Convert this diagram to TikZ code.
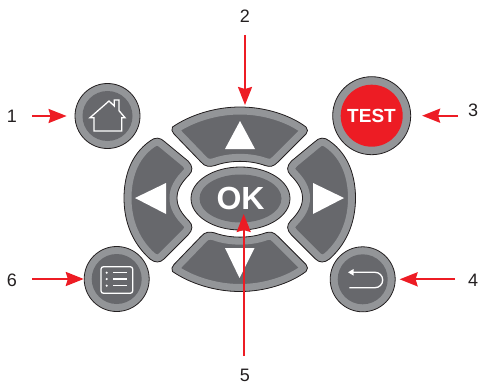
\documentclass[tikz,border=0pt]{standalone}
\usepackage{fontspec}
\setmainfont{Liberation Sans}
\usetikzlibrary{arrows.meta,shapes.geometric}
\definecolor{ringgray}{HTML}{939598}
\definecolor{darkgray}{HTML}{67686C}
\definecolor{edgeblack}{HTML}{231F20}
\definecolor{redtest}{HTML}{ED1C24}
\tikzset{
  redarrow/.style={draw=redtest,line width=2.2pt,-{Stealth[length=18pt,width=14pt,inset=2pt,fill=redtest]}},
  lbl/.style={inner sep=0pt,font=\fontsize{18}{20}\selectfont,text=edgeblack},
  ringbtn/.style={circle,draw=edgeblack,line width=0.8pt,fill=ringgray,inner sep=0pt,minimum size=65pt},
  ringin/.style={circle,fill=darkgray,inner sep=0pt,minimum size=50pt},
  iconline/.style={draw=white,line width=1.3pt},
  tri/.style={fill=white,draw=none},
}
\def\uppath{(172.5,127) .. controls (190,115) and (215,107) .. (240,107) .. controls (265,107) and (290,115) .. (306,127) .. controls (308,129) and (308,132) .. (306,134) -- (278,162) .. controls (273,167) and (270,167) .. (265,165.5) .. controls (250,160) and (230,160) .. (215,165.5) .. controls (210,167) and (205,167) .. (201,162) -- (174,134) .. controls (172,132) and (171,129) .. (172.5,127) -- cycle}
\def\leftpath{(150,141) .. controls (130,155) and (124,178) .. (124,198) .. controls (124,218) and (130,241) .. (150,259) .. controls (155,263) and (160,263) .. (164,259) -- (188,235) .. controls (193,230) and (193,225) .. (189,221) .. controls (181,213) and (177,206) .. (177,198) .. controls (177,190) and (181,183) .. (189,175) .. controls (193,171) and (193,166) .. (188,161) -- (165,142) .. controls (160,137) and (155,137) .. (150,141) -- cycle}
\newcommand{\padbtn}[1]{%
  \begin{scope}\clip #1;
    \fill[darkgray] #1;
    \draw[ringgray,line width=15pt] #1;
  \end{scope}
  \draw[edgeblack,line width=0.8pt] #1;
}
\begin{document}
\begin{tikzpicture}[x=1pt,y=-1pt]
\useasboundingbox (0,0) rectangle (478,385);
% pad
\padbtn{\uppath}
\begin{scope}[shift={(0,398.5)},yscale=-1]\padbtn{\uppath}\end{scope}
\padbtn{\leftpath}
\begin{scope}[shift={(479.5,0)},xscale=-1]\padbtn{\leftpath}\end{scope}
\fill[tri] (240,121) -- (255,149) -- (225,149) -- cycle;
\fill[tri] (239.5,278) -- (254.5,248) -- (225,248) -- cycle;
\fill[tri] (135,198) -- (166,183) -- (166,214) -- cycle;
\fill[tri] (344,198) -- (313,183) -- (313,214) -- cycle;
% OK
\node[ellipse,draw=edgeblack,line width=0.8pt,fill=ringgray,inner sep=0pt,minimum width=99pt,minimum height=63pt] (okout) at (240.5,198.5) {};
\node[ellipse,fill=darkgray,inner sep=0pt,minimum width=82pt,minimum height=48pt] (okin) at (240.5,198.5) {};
\node[inner sep=0pt,text=white,font=\bfseries\fontsize{32}{32}\selectfont] (oktext) at (240.5,198.5) {OK};
% round buttons
\node[ringbtn] (home) at (107.5,116) {};
\node[ringin] (homein) at (107.5,116) {};
\node[ringbtn] (menu) at (116.7,279) {};
\node[ringin] (menuin) at (116.7,279) {};
\node[ringbtn] (back) at (362.7,279.3) {};
\node[ringin] (backin) at (362.7,279.3) {};
\node[ringbtn,minimum size=78pt] (test) at (371.7,115.7) {};
\node[circle,fill=redtest,inner sep=0pt,minimum size=62pt] (testin) at (371.7,115.7) {};
\node[inner sep=0pt,text=white,font=\bfseries\fontsize{19}{19}\selectfont] (testtext) at (371.5,116) {TEST};
% icons
\draw[iconline,line join=miter] (90,117.7) -- (109,101) -- (114.3,106) -- (114.3,100) -- (119,100) -- (119,110.7) -- (125,117.7) -- (121.7,117.7) -- (121.7,131) -- (94,131) -- (94,117.7) -- cycle;
\draw[iconline,rounded corners=2.5pt] (101,266.7) rectangle (132.7,293.3);
\draw[iconline] (113.3,272.7) -- (126.7,272.7) (113.3,279) -- (126.7,279) (113.3,285.7) -- (126.7,285.7);
\fill[white] (106.7,272.7) circle (1.2pt) (106.7,279) circle (1.2pt) (106.7,285.7) circle (1.2pt);
\draw[iconline] (353,272.3) -- (375,272.3) arc[start angle=90,end angle=-90,radius=7.7pt] -- (349.3,287.7);
\fill[white] (348,272.3) -- (353.5,269) -- (353.5,275.6) -- cycle;
% labels
\node[lbl] (l1) at (12,116.5) {1};
\node[lbl] (l2) at (245,16) {2};
\node[lbl] (l3) at (473,110) {3};
\node[lbl] (l4) at (473,280) {4};
\node[lbl] (l5) at (245,375) {5};
\node[lbl] (l6) at (12,280) {6};
% arrows
\coordinate (s1) at (32,116); \coordinate (e2) at (245,105);
\coordinate (s2) at (245,35);
\coordinate (s3) at (458,115.7);
\coordinate (s4) at (455,279.3);
\coordinate (s5) at (243.7,356); \coordinate (e5) at (243.7,214);
\coordinate (s6) at (32,279);
\draw[redarrow,shorten >=8pt] (s1) -- (home.west);
\draw[redarrow] (s2) -- (e2);
\draw[redarrow,shorten >=11pt] (s3) -- (test.east);
\draw[redarrow,shorten >=4pt] (s4) -- (back.east);
\draw[redarrow] (s5) -- (e5);
\draw[redarrow] (s6) -- (menu.west);
\end{tikzpicture}
\end{document}
